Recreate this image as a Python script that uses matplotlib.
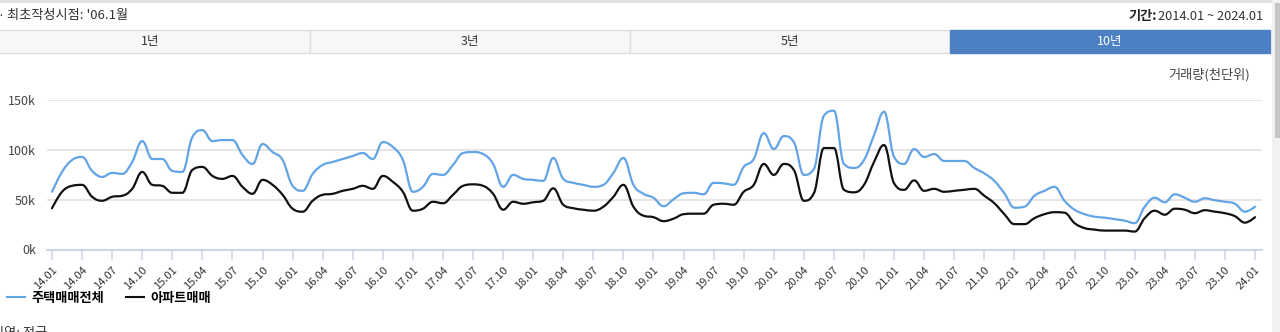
import numpy as np
import matplotlib
matplotlib.use('Agg')
from matplotlib import pyplot as plt
from matplotlib.path import Path
from matplotlib.patches import PathPatch, Rectangle
from matplotlib.lines import Line2D

plt.rcParams['font.family'] = ['Noto Sans CJK KR', 'DejaVu Sans']

# monthly trade volume (thousands), 2014.01 ~ 2024.01
months = [f'{y:02d}.{m:02d}' for y in range(14, 25) for m in range(1, 13)][:121]

house_total = [58, 78, 90, 93, 79, 73, 77, 76, 88, 109, 91, 91, 79, 78, 113, 120, 109, 110, 110, 95,
               86, 106, 98, 90, 64, 59, 76, 85, 88, 91,
               94, 97, 91, 108, 103, 90, 58, 63, 76, 75, 85, 97, 98, 96, 86, 63, 75, 71, 70, 69,
               92, 71, 67, 65, 63, 65, 77, 92, 65, 56,
               52, 43.5, 50.5, 56.5, 57, 55.5, 67, 66.5, 65, 83, 91, 117, 101, 114, 108, 75, 81, 134.5, 139.5, 86,
               82, 90, 115, 138.5, 93, 86, 101, 93, 96, 89,
               89, 89, 82, 76.5, 69, 56.5, 42, 43, 54, 59, 63, 49, 40, 35.5, 33, 32, 30.5, 29, 26.5, 43,
               52, 47.5, 55.5, 52, 48, 51.5, 49.5, 48, 46, 38, 43]

apartment = [41.5, 58, 64, 65, 53, 49, 53, 54, 61, 78, 65, 64, 57, 57, 80, 83, 74, 71, 74, 63,
             56, 70, 65, 55, 41, 38, 49, 55, 56, 59,
             61, 64, 61, 74, 68, 58, 39, 41, 48, 46.5, 55, 64, 65.5, 64, 56, 40, 48, 46, 47.5, 49,
             61.5, 45, 41.5, 40, 39, 43, 53, 65, 43, 34,
             32.5, 28.5, 31, 35.5, 36, 36, 45, 46, 45, 58, 65, 86, 75, 86, 80, 49, 56.5, 102, 102, 60,
             57.5, 65, 88, 105, 66.5, 60, 69.5, 59, 61, 58,
             59, 60, 61, 54, 46.5, 35.5, 25.5, 25.5, 31.5, 35.5, 37.5, 37, 26.5, 21.5, 20, 19, 19, 19, 18, 31.5,
             39, 35, 41, 40, 36.5, 39.5, 38, 36.5, 33.5, 27, 32.5]

series_names = ['주택매매전체', '아파트매매']
series_colors = ['#62a4e6', '#111111']
yticks = [0, 50, 100, 150]
tabs = ['1년', '3년', '5년', '10년']


def spline_path(x, y, smoothing=1.5):
    # bezier path through the points, control points like a highcharts spline
    x = np.asarray(x, float)
    y = np.asarray(y, float)
    n = len(x)
    denom = smoothing + 1
    lc = np.column_stack([x, y])
    rc = np.column_stack([x, y])
    for i in range(1, n - 1):
        lcx = (smoothing * x[i] + x[i - 1]) / denom
        lcy = (smoothing * y[i] + y[i - 1]) / denom
        rcx = (smoothing * x[i] + x[i + 1]) / denom
        rcy = (smoothing * y[i] + y[i + 1]) / denom
        corr = (rcy - lcy) * (rcx - x[i]) / (rcx - lcx) + y[i] - rcy
        lcy += corr
        rcy += corr
        if lcy > y[i - 1] and lcy > y[i]:
            lcy = max(y[i - 1], y[i]); rcy = 2 * y[i] - lcy
        elif lcy < y[i - 1] and lcy < y[i]:
            lcy = min(y[i - 1], y[i]); rcy = 2 * y[i] - lcy
        if rcy > y[i + 1] and rcy > y[i]:
            rcy = max(y[i + 1], y[i]); lcy = 2 * y[i] - rcy
        elif rcy < y[i + 1] and rcy < y[i]:
            rcy = min(y[i + 1], y[i]); lcy = 2 * y[i] - rcy
        lc[i] = (lcx, lcy)
        rc[i] = (rcx, rcy)
    verts = [(x[0], y[0])]
    codes = [Path.MOVETO]
    for i in range(1, n):
        verts += [tuple(rc[i - 1]), tuple(lc[i]), (x[i], y[i])]
        codes += [Path.CURVE4] * 3
    return Path(verts, codes)


fig = plt.figure(figsize=(12.8, 3.32), dpi=100)

# page furniture in pixel coordinates
bg = fig.add_axes([0, 0, 1, 1])
bg.set_xlim(0, 1280)
bg.set_ylim(332, 0)
bg.axis('off')
bg.add_patch(Rectangle((0, 0), 1280, 3, color='#e4e4e4', lw=0))
bg.text(-3, 16, '·', fontsize=9, color='#333', va='center')
bg.text(7, 16, "최초작성시점: '06.1월", fontsize=9.5, color='#333', va='center')
bg.text(1157, 16, '기간:', fontsize=9.5, color='#222', va='center', ha='right', fontweight='bold')
bg.text(1263, 16, '2014.01 ~ 2024.01', fontsize=9.2, color='#333', va='center', ha='right')
tab_w = 320
for i, t in enumerate(tabs):
    active = i == len(tabs) - 1
    x0 = i * tab_w - 10
    bg.add_patch(Rectangle((x0, 30), tab_w, 23, facecolor='#4d80c3' if active else '#f7f7f7',
                           edgecolor='#4d80c3' if active else '#dedede', lw=1))
    bg.text(x0 + tab_w / 2, 42, t, fontsize=9, ha='center', va='center',
            color='white' if active else '#333')
bg.add_patch(Rectangle((1272, 0), 8, 332, color='#f1f1f1', lw=0))
bg.add_patch(Rectangle((1275, 3), 5, 135, color='#c6c6c6', lw=0))
bg.text(1250, 75, '거래량(천단위)', fontsize=9.5, color='#444', ha='right', va='center')
bg.text(-8, 334, '지역: 전국', fontsize=9.5, color='#333', va='center')

# chart
ax = fig.add_axes([47 / 1280, 82.5 / 332, 1215 / 1280, 149.2 / 332])
x = np.arange(len(months))
for vals, c in zip([house_total, apartment], series_colors):
    ax.add_patch(PathPatch(spline_path(x, vals), fill=False, edgecolor=c, lw=1.6,
                           capstyle='round', joinstyle='round', zorder=3))
ax.set_xlim(-0.5, 120.7)
ax.set_ylim(0, 150)
ax.set_yticks(yticks)
ax.set_yticklabels([f'{v}k' for v in yticks])
ax.set_xticks(x[::3])
ax.set_xticklabels(months[::3], rotation=45, ha='right', rotation_mode='anchor')
ax.grid(axis='y', color='#e3e3e3', lw=1.3)
ax.set_axisbelow(True)
for s in ['top', 'right', 'left']:
    ax.spines[s].set_visible(False)
ax.spines['bottom'].set_color('#ccd6eb')
ax.spines['bottom'].set_linewidth(1.5)
ax.tick_params(axis='y', length=0, pad=8, labelsize=9, labelcolor='#444')
ax.tick_params(axis='x', length=7, width=1.1, color='#ccd6eb', pad=4, labelsize=8, labelcolor='#333')

handles = [Line2D([], [], color=c, lw=1.5) for c in series_colors]
fig.legend(handles, series_names, loc='center left', bbox_to_anchor=(-0.004, 1 - 298 / 332),
           frameon=False, ncol=2, handlelength=1.4, handletextpad=0.5, columnspacing=1.6,
           prop={'weight': 'bold', 'size': 9.5})

fig.savefig('out.png', dpi=100)
